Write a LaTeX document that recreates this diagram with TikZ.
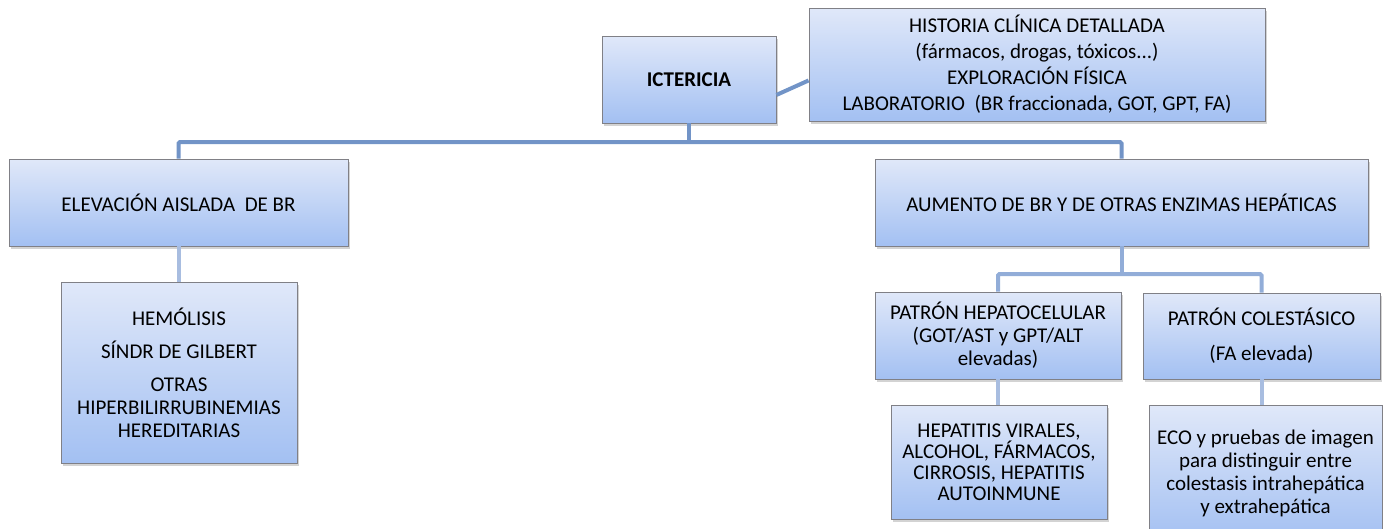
\documentclass[tikz,border=0pt]{standalone}
\usepackage{fontspec}
\setmainfont{Carlito}
\usetikzlibrary{
	positioning		% Allows relative placement
	, shadows		% Allows drop shadows under the boxes
	, calc
}
\definecolor{boxtop}{RGB}{224,232,249}
\definecolor{boxbottom}{RGB}{163,192,242}
\definecolor{boxborder}{RGB}{128,128,134}
\definecolor{trunkblue}{RGB}{114,148,199}
\definecolor{branchblue}{RGB}{146,173,216}
\definecolor{leafblue}{RGB}{168,189,224}

\begin{document}
\begin{tikzpicture}[
		x=1pt, y=-1pt
		, box/.style={
			draw=boxborder, line width=0.9pt,
			top color=boxtop, bottom color=boxbottom,
			drop shadow={shadow xshift=2pt, shadow yshift=-3pt, opacity=0.35},
			align=center, inner sep=0pt,
			font=\fontsize{21}{23}\selectfont
		}
		, boxsize/.style 2 args={minimum width=#1pt, minimum height=#2pt}
		, trunk/.style={draw=trunkblue, line width=4pt, rounded corners=1.5pt}
		, branch/.style={draw=branchblue, line width=4pt, rounded corners=1.5pt}
		, leaf/.style={draw=leafblue, line width=4pt}
	]

	% Keep the page to the size of the reference
	\clip (0,0) rectangle (1383,528);

	% Draw the top row: the main box and its notes
	\node[box, boxsize={174}{87}] (icterus) at (689,79.5) {\textbf{ICTERICIA}};
	\node[box, boxsize={456}{113}, font=\fontsize{21}{26}\selectfont] (workup) at (1037,64.5)
		{HISTORIA CLÍNICA DETALLADA\\ (fármacos, drogas, tóxicos...)\\ EXPLORACIÓN FÍSICA\\ LABORATORIO\ \ (BR fraccionada, GOT, GPT, FA)};

	% Draw the two main branches
	\node[box, boxsize={339}{87}] (isolated) at (178.5,202.5) {ELEVACIÓN AISLADA\ \ DE BR};
	\node[box, boxsize={493}{87}] (enzymes) at (1121.5,202.5) {AUMENTO DE BR Y DE OTRAS ENZIMAS HEPÁTICAS};

	% Draw the patterns under the enzymes branch
	\node[box, boxsize={246}{87}] (hepatocel) at (998,335.5) {PATRÓN HEPATOCELULAR\\ (GOT/AST y GPT/ALT\\ elevadas)};
	\node[box, boxsize={237}{86}] (cholestatic) at (1261.5,336) {PATRÓN COLESTÁSICO\\[12pt] (FA elevada)};

	% Draw the bottom row of causes
	\node[box, boxsize={236}{181}] (hemolysis) at (179,372.5)
		{HEMÓLISIS\\[10pt] SÍNDR DE GILBERT\\[10pt] OTRAS\\ HIPERBILIRRUBINEMIAS\\ HEREDITARIAS};
	\node[box, boxsize={216}{114}, font=\fontsize{21}{21}\selectfont] (hepcauses) at (999,462)
		{HEPATITIS VIRALES,\\ ALCOHOL, FÁRMACOS,\\ CIRROSIS, HEPATITIS\\ AUTOINMUNE};
	\node[box, boxsize={233}{136}] (imaging) at (1265.5,473)
		{ECO y pruebas de imagen\\ para distinguir entre\\ colestasis intrahepática\\ y extrahepática};

	% Draw the connectors
	\coordinate (bus) at (689,142);
	\coordinate (split) at (1121.5,274);
	\path[trunk] (icterus.-10.7) -- (workup.184.6);
	\path[trunk] (icterus.south) -- (bus);
	\path[trunk] (isolated.north) |- (bus) -| (enzymes.north);
	\path[branch] (enzymes.south) -- (split);
	\path[branch] (hepatocel.north) |- (split) -| (cholestatic.north);
	\path[leaf] (isolated.south) -- (isolated.south |- hemolysis.north);
	\path[leaf] (hepatocel.south) -- (hepatocel.south |- hepcauses.north);
	\path[leaf] (cholestatic.south) -- (cholestatic.south |- imaging.north);
\end{tikzpicture}
\end{document}
